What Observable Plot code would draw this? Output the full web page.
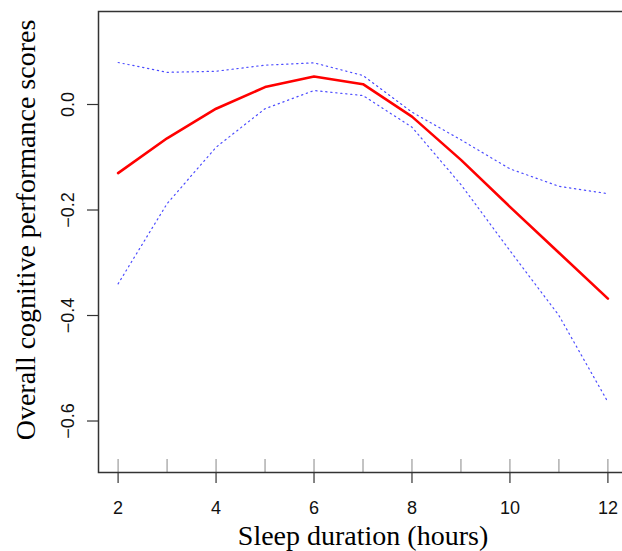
<!DOCTYPE html>
<html>
<head>
<meta charset="utf-8">
<script src="https://cdn.jsdelivr.net/npm/d3@7"></script>
<script src="https://cdn.jsdelivr.net/npm/@observablehq/plot@0.6"></script>
<style>
  html, body { margin: 0; padding: 0; background: #fff; overflow: hidden; }
  svg { display: block; max-width: none !important; }
</style>
</head>
<body>
<div id="chart"></div>
<script>
const hours = [2, 3, 4, 5, 6, 7, 8, 9, 10, 11, 12];
const estimate = [-0.130, -0.064, -0.008, 0.033, 0.053, 0.0385, -0.023, -0.105, -0.194, -0.281, -0.368];
const upper = [0.0796, 0.061, 0.063, 0.0746, 0.079, 0.055, -0.0145, -0.067, -0.122, -0.155, -0.169];
const lower = [-0.340, -0.188, -0.081, -0.008, 0.0265, 0.017, -0.043, -0.152, -0.277, -0.400, -0.564];
const xMajorTicks = [2, 4, 6, 8, 10, 12];
const xMinorTicks = [2, 3, 4, 5, 6, 7, 8, 9, 10, 11, 12];
const yTicks = [-0.6, -0.4, -0.2, 0.0];
const xTitle = "Sleep duration (hours)";
const yTitle = "Overall cognitive performance scores";

const rows = hours.map((h, i) => ({h, est: estimate[i], up: upper[i], lo: lower[i]}));

const serif = "'Liberation Serif', 'Times New Roman', serif";
const sans = "'Liberation Sans', Arial, sans-serif";

const chart = Plot.plot({
  width: 627,
  height: 551,
  marginLeft: 98,
  marginRight: 0,
  marginTop: 11,
  marginBottom: 79,
  style: {fontFamily: sans, fontSize: "18px", color: "#222", background: "#fff", maxWidth: "none"},
  x: {domain: [1.6, 12.4], axis: null},
  y: {domain: [-0.6976, 0.1763], axis: null},
  marks: [
    Plot.axisX(xMinorTicks, {anchor: "bottom", tickSize: -13, tickFormat: () => "", stroke: "#888", strokeWidth: 1, label: null}),
    Plot.axisX(xMajorTicks, {anchor: "bottom", tickSize: 11, tickPadding: 18, tickFormat: d => String(d), stroke: "#333", strokeWidth: 1.2, fontSize: 18, fontFamily: sans, fill: "#111", label: null}),
    Plot.axisY(yTicks, {anchor: "left", tickSize: 11, tickPadding: 14, tickRotate: -90, tickFormat: d => d.toFixed(1).replace("-", "\u2212"), stroke: "#333", strokeWidth: 1.2, fontSize: 18, fontFamily: sans, fill: "#111", label: null}),
    Plot.line(rows, {x: "h", y: "up", stroke: "#0000ff", strokeWidth: 1.2, strokeDasharray: "1.3,3.7", strokeOpacity: 0.7}),
    Plot.line(rows, {x: "h", y: "lo", stroke: "#0000ff", strokeWidth: 1.2, strokeDasharray: "1.3,3.7", strokeOpacity: 0.7}),
    Plot.line(rows, {x: "h", y: "est", stroke: "#ff0000", strokeWidth: 2.6}),
    Plot.frame({stroke: "#333", strokeWidth: 1.5}),
    Plot.text([xTitle], {frameAnchor: "bottom", dy: 72, lineAnchor: "bottom", textAnchor: "middle", fontFamily: serif, fontSize: 28, fill: "#000"}),
    Plot.text([yTitle], {frameAnchor: "left", rotate: -90, dx: -64, dy: -12, lineAnchor: "bottom", textAnchor: "middle", fontFamily: serif, fontSize: 28, fill: "#000"})
  ]
});
document.getElementById("chart").appendChild(chart);
</script>
</body>
</html>
